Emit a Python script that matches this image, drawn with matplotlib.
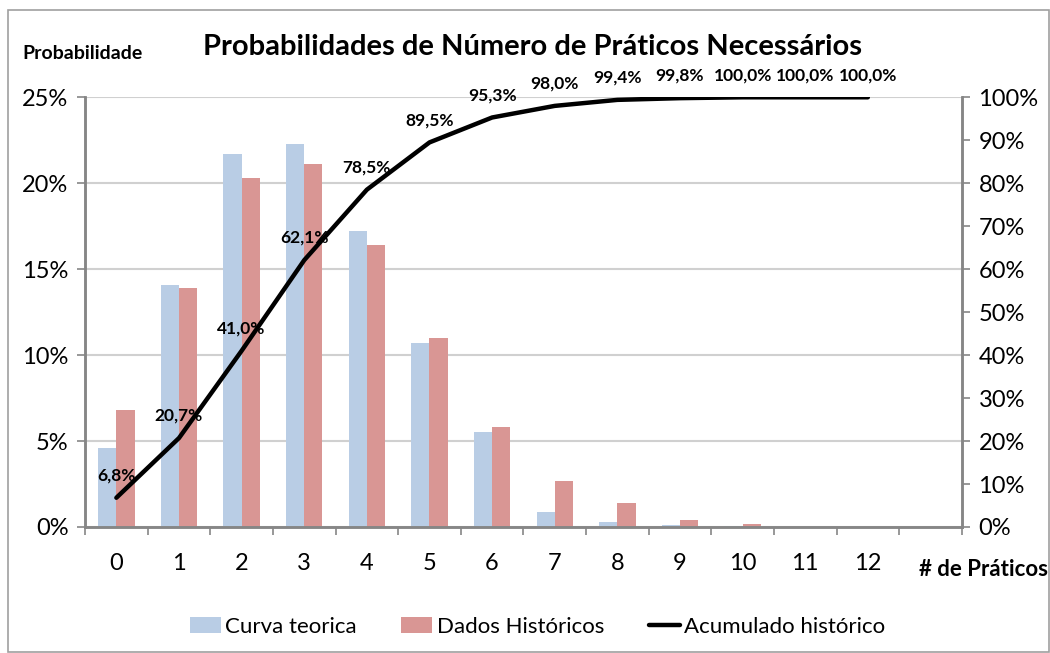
import matplotlib
matplotlib.use('Agg')
import matplotlib.pyplot as plt
from matplotlib.patches import Rectangle
from matplotlib.ticker import FixedLocator, PercentFormatter

# ---------------------------------------------------------------------------
# Data
# ---------------------------------------------------------------------------
categories = ['0', '1', '2', '3', '4', '5', '6', '7', '8', '9', '10', '11', '12', '']
curva_teorica = [4.6, 14.1, 21.7, 22.3, 17.2, 10.7, 5.5, 0.9, 0.3, 0.1, 0.03, 0.0, 0.0, None]
dados_historicos = [6.8, 13.9, 20.3, 21.1, 16.4, 11.0, 5.8, 2.7, 1.4, 0.4, 0.2, 0.0, 0.0, None]
acumulado = [6.8, 20.7, 41.0, 62.1, 78.5, 89.5, 95.3, 98.0, 99.4, 99.8, 100.0, 100.0, 100.0]

BLUE = '#B9CDE5'
RED = '#D99694'
GRID = '#D0D0D0'
SPINE = '#868686'

plt.rcParams['font.family'] = ['Lato', 'DejaVu Sans']

fig = plt.figure(figsize=(10.5, 6.53), dpi=100)
ax = fig.add_axes([0.081, 0.193, 0.835, 0.658])
ax2 = ax.twinx()

# outer chart frame
fig.patches.append(Rectangle((8 / 1050, 1 / 653), 1041 / 1050, 642 / 653,
                             transform=fig.transFigure, fill=False,
                             edgecolor='#A0A0A0', linewidth=1.2))

n_bars = len(categories)
xs = list(range(n_bars))
bw = 0.29
x_blue = [x - bw / 2 for x in xs if curva_teorica[x] is not None]
x_red = [x + bw / 2 for x in xs if dados_historicos[x] is not None]
ax.bar(x_blue, [v for v in curva_teorica if v is not None], width=bw,
       color=BLUE, label='Curva teorica', zorder=2)
ax.bar(x_red, [v for v in dados_historicos if v is not None], width=bw,
       color=RED, label='Dados Históricos', zorder=2)

ax.set_xlim(-0.5, n_bars - 0.5)
ax.set_ylim(0, 25)
ax.yaxis.set_major_locator(FixedLocator([0, 5, 10, 15, 20, 25]))
ax.yaxis.set_major_formatter(PercentFormatter(decimals=0))
ax.grid(axis='y', color=GRID, linewidth=1.5, zorder=0)
ax.set_axisbelow(True)

ax.set_xticks(xs)
ax.set_xticklabels(categories)
ax.set_xticks([x - 0.5 for x in range(n_bars + 1)], minor=True)
ax.tick_params(axis='x', which='major', length=0, pad=19, labelsize=17)
ax.tick_params(axis='x', which='minor', length=6, color=SPINE, width=1.2)
ax.tick_params(axis='y', length=6, color=SPINE, width=1.2, labelsize=17, pad=6)

# cumulative line on the secondary axis
ln, = ax2.plot(xs[:len(acumulado)], acumulado, color='black', linewidth=3.2,
               solid_capstyle='round', label='Acumulado histórico', zorder=3)
ax2.set_ylim(0, 100)
ax2.yaxis.set_major_locator(FixedLocator(range(0, 101, 10)))
ax2.yaxis.set_major_formatter(PercentFormatter(decimals=0))
ax2.tick_params(axis='y', length=6, color=SPINE, width=1.2, labelsize=17, pad=6)

for x, v in zip(xs, acumulado):
    ax2.annotate(f'{v:.1f}%'.replace('.', ','), (x, v), xytext=(0, 16),
                 textcoords='offset points', ha='center', va='center',
                 fontsize=12.5, fontweight='bold', zorder=4)

for a in (ax, ax2):
    a.spines['top'].set_visible(False)
    for s in ('left', 'right', 'bottom'):
        a.spines[s].set_color(SPINE)
        a.spines[s].set_linewidth(1.8)

fig.text(0.507, 0.928, 'Probabilidades de Número de Práticos Necessários',
         ha='center', va='center', fontsize=21, fontweight='bold')
fig.text(0.021, 0.918, 'Probabilidade', ha='left', va='center',
         fontsize=14, fontweight='bold')
fig.text(0.998, 0.128, '# de Práticos', ha='right', va='center',
         fontsize=16, fontweight='bold')

handles = ax.get_legend_handles_labels()[0] + [ln]
fig.legend(handles, ['Curva teorica', 'Dados Históricos', 'Acumulado histórico'],
           loc='center', bbox_to_anchor=(0.512, 0.04), ncol=3, frameon=False,
           fontsize=16, handlelength=1.4, handletextpad=0.2, columnspacing=2.0)

fig.savefig('out.png', dpi=100)
